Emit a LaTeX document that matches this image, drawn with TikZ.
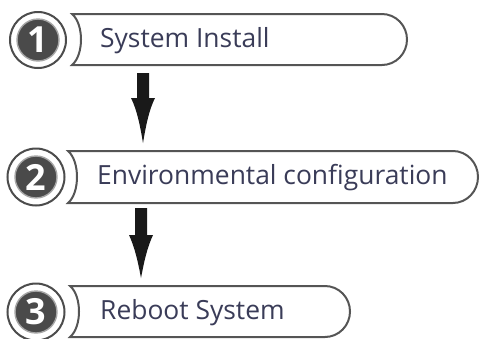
\documentclass[tikz,border=0pt]{standalone}
\usepackage{fontspec}
\setmainfont{Open Sans}
\definecolor{txt}{HTML}{3A3C58}
\definecolor{edge}{HTML}{555555}
\definecolor{disc}{HTML}{4A4A4A}
\begin{document}
\begin{tikzpicture}[x=1pt,y=-1pt,
  boxline/.style={draw=edge,line width=2pt,fill=white},
  ring/.style={draw=edge!90!black,line width=2pt,fill=white},
  discst/.style={fill=disc,draw=gray!70,line width=1.4pt},
  num/.style={text=white,font=\fontsize{36}{36}\selectfont\bfseries,inner sep=0pt},
  lbl/.style={text=txt,font=\fontsize{26.4}{30}\selectfont,anchor=west,inner sep=0pt},
  arr/.style={fill=black!90}]
\useasboundingbox (0,0) rectangle (480,338);
% row 1
\draw[boxline] (72,14) -- (382,14) arc[start angle=90,end angle=-90,x radius=25,y radius=-25.5] -- (72,65)
  .. controls (84,55) and (84,24) .. cycle;
\draw[ring] (38,40) circle[radius=28];
\fill[discst] (38,40) circle[radius=21];
\node[num] (n1) at (38,40) {1};
\node[lbl] (t1) at (100,41) {System Install};
% row 2
\draw[boxline] (68,151) -- (453,151) arc[start angle=90,end angle=-90,x radius=25,y radius=-26] -- (68,203)
  .. controls (80,193) and (80,161) .. cycle;
\draw[ring] (36,177) circle[radius=28.5];
\fill[discst] (36,177) circle[radius=21];
\node[num] (n2) at (36,177) {2};
\node[lbl] (t2) at (97,178) {Environmental configuration};
% row 3
\draw[boxline] (70,286) -- (325,286) arc[start angle=90,end angle=-90,x radius=25,y radius=-25.5] -- (70,337)
  .. controls (82,327) and (82,296) .. cycle;
\draw[ring] (36,312) circle[radius=28.5];
\fill[discst] (36,312) circle[radius=21];
\node[num] (n3) at (36,312) {3};
\node[lbl] (t3) at (100,313) {Reboot System};
% arrows
\fill[arr] (137,73) -- (149,73) -- (149,98) -- (155,98) .. controls (149,110) and (146,125) .. (143,143)
  .. controls (140,125) and (137,110) .. (131,98) -- (137,98) -- cycle;
\fill[arr] (135,208) -- (147,208) -- (147,235) -- (153,235) .. controls (147,248) and (144,262) .. (141,278)
  .. controls (138,262) and (135,248) .. (129,235) -- (135,235) -- cycle;
\end{tikzpicture}
\end{document}
